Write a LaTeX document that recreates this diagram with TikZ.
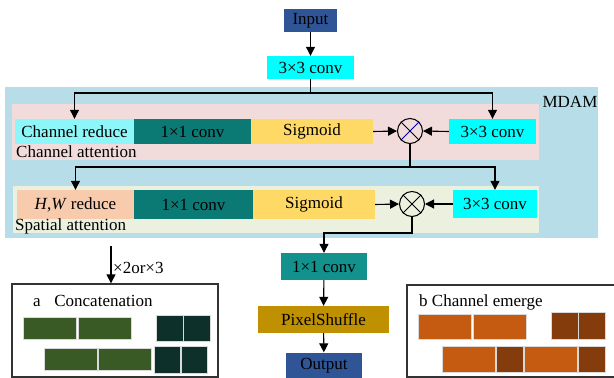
\documentclass[tikz,border=0pt]{standalone}
\usepackage{fontspec}
\setmainfont{Liberation Serif}
\usepackage{xcolor}
\usepackage{tikz}
\usetikzlibrary{arrows.meta,positioning,calc}

\definecolor{mdamblue}{HTML}{B7DDE8}
\definecolor{chpink}{HTML}{F2DCDB}
\definecolor{sppale}{HTML}{EBF1DE}
\definecolor{convcyan}{HTML}{00FFFF}
\definecolor{redcyan}{HTML}{8CF6F8}
\definecolor{tealdark}{HTML}{0B7A75}
\definecolor{tealmid}{HTML}{13918C}
\definecolor{sigyellow}{HTML}{FFD966}
\definecolor{hwpeach}{HTML}{F8CBAD}
\definecolor{ioblue}{HTML}{2F5597}
\definecolor{psgold}{HTML}{BF9000}
\definecolor{catgreen}{HTML}{3A5A25}
\definecolor{catdark}{HTML}{0D302B}
\definecolor{emorange}{HTML}{C55A11}
\definecolor{embrown}{HTML}{843C0C}

\begin{document}
\begin{tikzpicture}[x=1pt, y=-1pt,
  every node/.style={font=\fontsize{17}{19}\selectfont},
  box/.style={inner sep=0pt, minimum height=25pt},
  mul/.style={draw, circle, line width=1pt, minimum size=25pt, inner sep=0pt, fill=none},
  frame/.style={draw=black!80, line width=1.3pt, inner sep=0pt},
  arr/.style={-{Triangle[length=9pt,width=9pt]}, line width=1.1pt},
  cell/.style={draw=white!85!black, line width=0.5pt}]
\useasboundingbox (0,0) rectangle (614,378);
% backgrounds
\fill[mdamblue] (5,87) rectangle (598,238);
\fill[chpink] (12,104) rectangle (539,160);
\fill[sppale] (13,186) rectangle (539,233);
\node (mdam) at (570,102) {MDAM};
% main column
\node[box, fill=ioblue, minimum width=53pt, minimum height=23pt] (input) at (310.5,20.5) {Input};
\node[box, fill=convcyan, minimum width=87pt, minimum height=23pt] (conva) at (310.5,67.5) {3×3 conv};
% channel attention
\node[box, fill=redcyan, minimum width=119pt] (chred) at (74.5,131.5) {Channel reduce};
\node[box, fill=tealdark, minimum width=117pt] (convb) at (192.5,131.5) {1×1 conv};
\node[box, fill=sigyellow, minimum width=122pt] (sigb) at (312,131.5) {Sigmoid};
\node[mul] (mulb) at (410,131) {};
\draw[line width=1pt] (mulb.north west) -- (mulb.south east);
\draw[blue!70!black, line width=1pt] (mulb.south west) -- (mulb.north east);
\node[box, fill=convcyan, minimum width=87pt] (convc) at (492.5,131.5) {3×3 conv};
\node[anchor=west, inner sep=0pt] (chlab) at (16,152) {Channel attention};
% spatial attention
\node[box, fill=hwpeach, minimum width=117pt, minimum height=29pt] (hwred) at (75.5,204.5) {\textit{H},\textit{W} reduce};
\node[box, fill=tealdark, minimum width=119pt, minimum height=29pt] (convd) at (193.5,204.5) {1×1 conv};
\node[box, fill=sigyellow, minimum width=122pt, minimum height=29pt] (sigd) at (314,204.5) {Sigmoid};
\node[mul] (muld) at (412,204) {};
\draw[line width=1pt] (muld.north west) -- (muld.south east)
  (muld.south west) -- (muld.north east);
\node[box, fill=convcyan, minimum width=84pt, minimum height=28pt] (conve) at (495,204) {3×3 conv};
\node[anchor=west, inner sep=0pt] (splab) at (15,226) {Spatial attention};
% output column
\node[box, fill=tealmid, minimum width=86pt, minimum height=27pt] (convf) at (324,266.5) {1×1 conv};
\node[box, fill=psgold, minimum width=131pt, minimum height=27pt] (pixsh) at (323.5,319.5) {PixelShuffle};
\node[box, fill=ioblue, minimum width=76pt, minimum height=27pt] (output) at (324,366) {Output};
% connectors
\coordinate (splita) at (310.5,93);
\coordinate (splitb) at (410,167);
\coordinate (join) at (412,233);
\draw[arr] (input) -- (conva);
\draw[line width=1.1pt] (conva.south) -- (splita);
\draw[arr] (splita) -| (chred.north);
\draw[arr] (splita) -| (convc.north);
\draw[arr] (sigb.east) -- (mulb.west);
\draw[arr] (convc.west) -- (mulb.east);
\draw[line width=1.1pt] (mulb.south) -- (splitb);
\draw[arr] (splitb) -| (hwred.north);
\draw[arr] (splitb) -| (conve.north);
\draw[arr] (sigd.east) -- (muld.west);
\draw[arr] (conve.west) -- (muld.east);
\draw[arr] (muld.south) -- (join) -| (convf.north);
\draw[arr] (convf) -- (pixsh);
\draw[arr] (pixsh) -- (output);
% a: concatenation
\node[frame, minimum width=206pt, minimum height=93pt] (boxa) at (115,330.5) {};
\node[anchor=west, inner sep=0pt] (alab) at (33,301) {a\hspace{0.8em}Concatenation};
\coordinate (scale) at (111,246);
\draw[arr] (scale) -- (scale |- boxa.north);
\node[anchor=west, inner sep=1pt] (scalelab) at (112,268) {×2or×3};
\foreach \x in {23,78} \filldraw[cell, fill=catgreen] (\x,317) rectangle +(53,22);
\foreach \x in {44,98} \filldraw[cell, fill=catgreen] (\x,348) rectangle +(53,22);
\foreach \x in {156,183} \filldraw[cell, fill=catdark] (\x,315) rectangle +(27,26);
\foreach \x in {154,181} \filldraw[cell, fill=catdark] (\x,346) rectangle +(26,27);
% b: channel emerge
\draw[black!80, line width=1.3pt] (616,285) -- (407,285) -- (407,377) -- (616,377);
\node[anchor=west, inner sep=0pt] (blab) at (419,302) {b Channel emerge};
\foreach \x in {418,473} \filldraw[cell, fill=emorange] (\x,314) rectangle +(53,25);
\foreach \x in {551,578} \filldraw[cell, fill=embrown] (\x,312) rectangle +(27,27);
\foreach \x/\w/\c in {442/53/emorange,496/27/embrown,524/53/emorange,578/27/embrown}
  \filldraw[cell, fill=\c] (\x,346) rectangle +(\w,26);
\end{tikzpicture}
\end{document}
